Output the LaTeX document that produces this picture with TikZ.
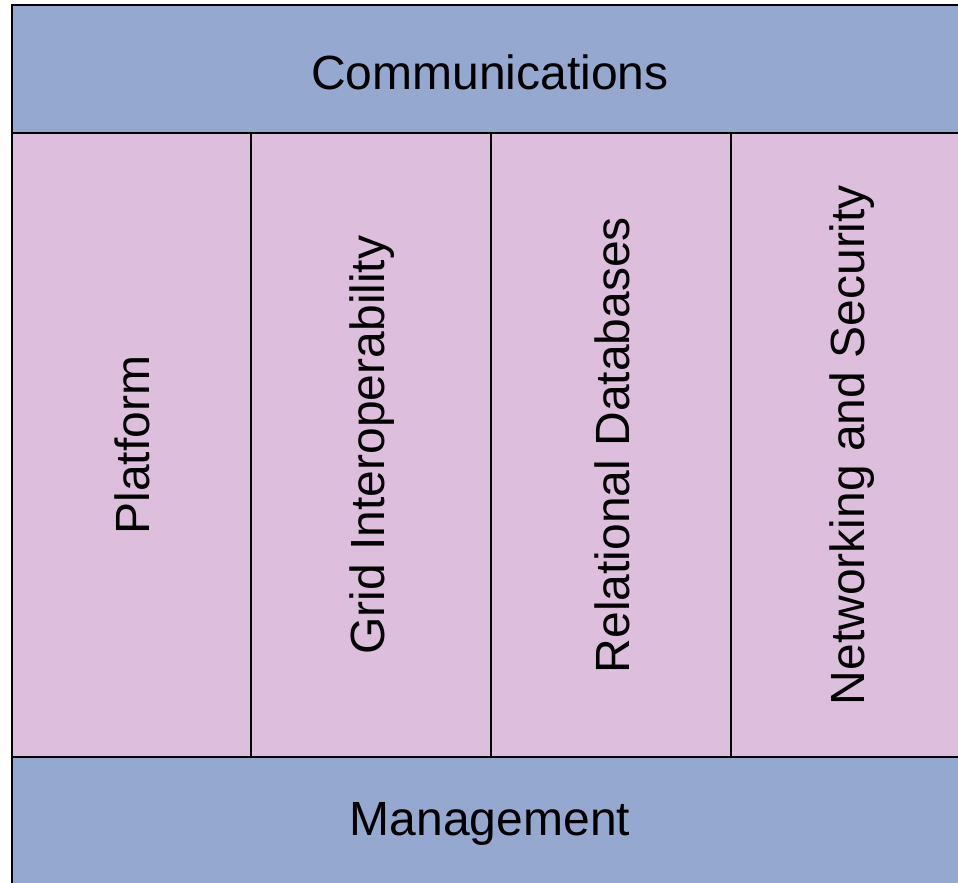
\documentclass[tikz,border=0pt]{standalone}
\usepackage{fontspec}
\setmainfont{Liberation Sans}
\definecolor{bandblue}{RGB}{149,168,207}
\definecolor{colpink}{RGB}{221,191,221}
\begin{document}
\begin{tikzpicture}[x=1pt,y=-1pt,
  band/.style={draw=black,line width=2pt,fill=bandblue},
  colbox/.style={draw=black,line width=2pt,fill=colpink},
  lbl/.style={font=\fontsize{48}{58}\selectfont,inner sep=0pt},
  vlbl/.style={lbl,rotate=90}]
\useasboundingbox (0,0) rectangle (958,883);
\begin{scope}
\clip (0,0) rectangle (958,883);
\draw[band] (12,5) rectangle (980,133);
\draw[colbox] (12,133) rectangle (251,757);
\draw[colbox] (251,133) rectangle (491,757);
\draw[colbox] (491,133) rectangle (731,757);
\draw[colbox] (731,133) rectangle (980,757);
\draw[band] (12,757) rectangle (980,900);
\end{scope}
\node[lbl] (comm) at (490,72) {Communications};
\node[lbl] (mgmt) at (490,824) {Management};
\node[vlbl] (plat) at (132,445) {Platform};
\node[vlbl] (grid) at (372,445) {Grid Interoperability};
\node[vlbl] (rel) at (612,445) {Relational Databases};
\node[vlbl] (net) at (852,445) {Networking and Security};
\end{tikzpicture}
\end{document}
